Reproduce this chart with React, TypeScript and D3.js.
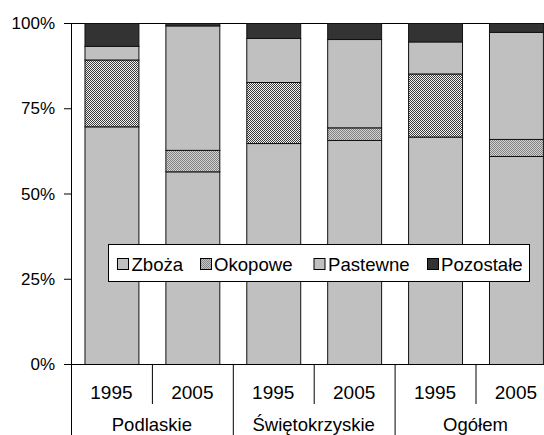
import React from "react";
import * as d3 from "d3";

const groups = ["Podlaskie", "Świętokrzyskie", "Ogółem"];
const years = ["1995", "2005", "1995", "2005", "1995", "2005"];
const seriesNames = ["Zboża", "Okopowe", "Pastewne", "Pozostałe"];
const zboza = [69.7, 56.5, 64.8, 65.7, 66.7, 61.0];
const okopowe = [19.6, 6.3, 17.9, 3.7, 18.5, 5.0];
const pastewne = [4.0, 36.5, 12.9, 25.9, 9.4, 31.4];
const pozostale = [6.7, 0.7, 4.4, 4.7, 5.4, 2.6];
const yTicks = [0, 25, 50, 75, 100];

const W = 544;
const H = 435;
const left = 71;
const top = 23;
const bottom = 364;
const step = 80.9;

const FONT = "Arial, 'Liberation Sans', sans-serif";

export default function App() {
  const idx = years.map((_, i) => i);
  const x = d3
    .scaleBand<number>()
    .domain(idx)
    .range([left, left + step * idx.length])
    .paddingInner(1 / 3)
    .paddingOuter(1 / 6);
  const y = d3.scaleLinear().domain([0, 100]).range([bottom, top]);

  const rows = idx.map((i) => ({
    i,
    Zboża: zboza[i],
    Okopowe: okopowe[i],
    Pastewne: pastewne[i],
    Pozostałe: pozostale[i],
  }));
  const stack = d3.stack<any>().keys(seriesNames);
  const stacked = stack(rows);

  const fillFor = (key: string, i: number) => {
    if (key === "Zboża") return "#C0C0C0";
    if (key === "Pastewne") return "#C0C0C0";
    if (key === "Pozostałe") return "#333333";
    return years[i] === "1995" ? "url(#pat1995)" : "url(#pat2005)";
  };

  const bandX = (i: number) => left + step * i;

  const legendItems = [
    { name: "Zboża", fill: "#C0C0C0", bx: 117, tx: 131.5 },
    { name: "Okopowe", fill: "url(#patLegend)", bx: 200, tx: 214 },
    { name: "Pastewne", fill: "#C0C0C0", bx: 313.5, tx: 328 },
    { name: "Pozostałe", fill: "#333333", bx: 427, tx: 441 },
  ];

  return (
    <svg
      width={W}
      height={H}
      style={{ position: "fixed", left: 0, top: 0, background: "#fff" }}
      fontFamily={FONT}
    >
      <defs>
        <pattern id="pat1995" width={2} height={2} patternUnits="userSpaceOnUse">
          <rect width={2} height={2} fill="#f4f4f4" />
          <rect x={0} y={0} width={1} height={1} fill="#3a3a3a" />
          <rect x={1} y={1} width={1} height={1} fill="#3a3a3a" />
        </pattern>
        <pattern id="pat2005" width={2} height={2} patternUnits="userSpaceOnUse">
          <rect width={2} height={2} fill="#d4d4d4" />
          <rect x={0} y={0} width={1} height={1} fill="#808080" />
          <rect x={1} y={1} width={1} height={1} fill="#808080" />
        </pattern>
        <pattern id="patLegend" width={2} height={2} patternUnits="userSpaceOnUse">
          <rect width={2} height={2} fill="#c4c4c4" />
          <rect x={0} y={0} width={1} height={1} fill="#8a8a8a" />
          <rect x={1} y={1} width={1} height={1} fill="#8a8a8a" />
        </pattern>
      </defs>

      {/* top border of plot */}
      <line x1={64} x2={W} y1={top + 0.5} y2={top + 0.5} stroke="#000" strokeWidth={1} />

      {/* bars */}
      {stacked.map((s) =>
        s.map((d, i) => (
          <rect
            key={s.key + i}
            x={(x(i) as number) + 0.5}
            y={y(d[1]) + 0.5}
            width={x.bandwidth()}
            height={Math.max(0, y(d[0]) - y(d[1]))}
            fill={fillFor(s.key as string, i)}
            stroke="#111"
            strokeWidth={1}
          />
        ))
      )}

      {/* y axis */}
      <line x1={left + 0.5} x2={left + 0.5} y1={top} y2={H} stroke="#000" strokeWidth={1} />
      {yTicks.map((t) => (
        <g key={t}>
          <line x1={64} x2={left} y1={y(t) + 0.5} y2={y(t) + 0.5} stroke="#000" strokeWidth={1} />
          <text
            x={55}
            y={y(t) + 6}
            textAnchor="end"
            fontSize={17}
            fill="#000"
          >
            {t}%
          </text>
        </g>
      ))}

      {/* x axis */}
      <line x1={64} x2={W} y1={bottom + 0.5} y2={bottom + 0.5} stroke="#000" strokeWidth={1} />
      {idx.map((i) => (
        <g key={"yr" + i}>
          {i > 0 && (
            <line
              x1={bandX(i) + 0.5}
              x2={bandX(i) + 0.5}
              y1={bottom}
              y2={i % 2 === 0 ? H : 404}
              stroke="#000"
              strokeWidth={1}
            />
          )}
          <text
            x={(x(i) as number) + x.bandwidth() / 2}
            y={398.5}
            textAnchor="middle"
            fontSize={19}
            fill="#000"
          >
            {years[i]}
          </text>
        </g>
      ))}
      {groups.map((g, gi) => (
        <text
          key={g}
          x={bandX(gi * 2) + step}
          y={431}
          textAnchor="middle"
          fontSize={18.5}
          fill="#000"
        >
          {g}
        </text>
      ))}

      {/* legend */}
      <rect x={108.5} y={244.5} width={421} height={37} fill="#fff" stroke="#000" strokeWidth={1} />
      {legendItems.map((it) => (
        <g key={it.name}>
          <rect x={it.bx + 0.5} y={258.5} width={11} height={11} fill={it.fill} stroke="#000" strokeWidth={1} />
          <text x={it.tx} y={270.7} fontSize={18.6} fill="#000">
            {it.name}
          </text>
        </g>
      ))}
    </svg>
  );
}
